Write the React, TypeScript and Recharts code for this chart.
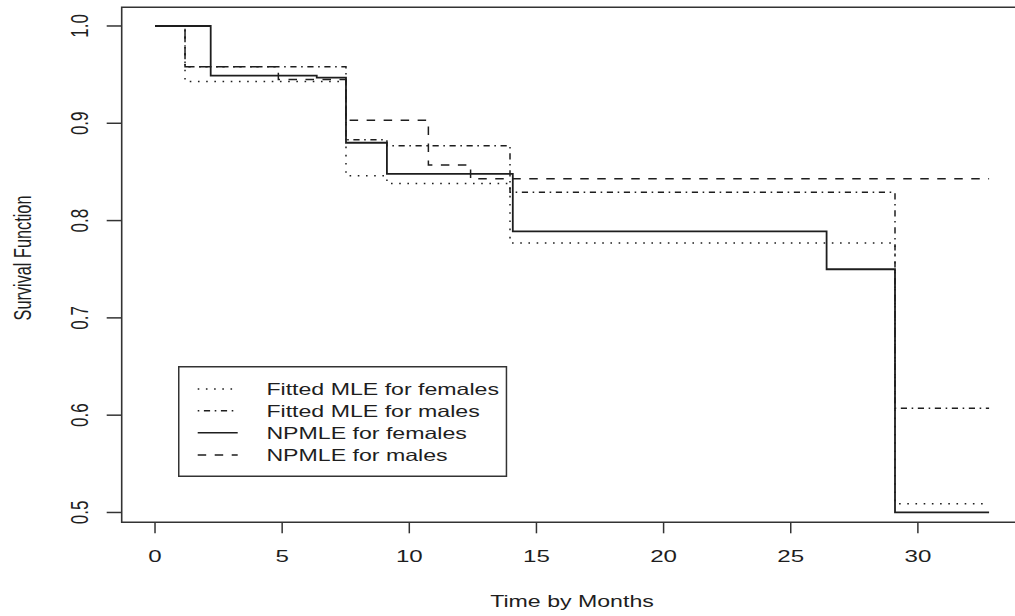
import * as React from 'react';
import { LineChart, Line, XAxis, YAxis, ReferenceArea, Legend } from 'recharts';

// step functions (time in months, survival probability)
const mleFemaleTimes = [0, 1.18, 7.51, 9.12, 13.96, 29.1, 32.8];
const mleFemaleSurv = [1.0, 0.943, 0.846, 0.838, 0.777, 0.509, 0.509];

const mleMaleTimes = [0, 1.18, 7.51, 9.12, 13.96, 29.1, 32.8];
const mleMaleSurv = [1.0, 0.958, 0.883, 0.877, 0.829, 0.607, 0.607];

const npFemaleTimes = [0, 2.19, 6.36, 7.51, 9.12, 14.07, 26.41, 29.1, 32.8];
const npFemaleSurv = [1.0, 0.949, 0.947, 0.88, 0.848, 0.789, 0.75, 0.5, 0.5];

const npMaleTimes = [0, 1.18, 4.85, 7.51, 10.75, 12.41, 32.8];
const npMaleSurv = [1.0, 0.958, 0.945, 0.903, 0.857, 0.843, 0.843];

const seriesNames = [
    'Fitted MLE for females',
    'Fitted MLE for males',
    'NPMLE for females',
    'NPMLE for males'
];

const xTicks = [0, 5, 10, 15, 20, 25, 30];
const yTicks = [0.5, 0.6, 0.7, 0.8, 0.9, 1.0];

const X_DOMAIN: [number, number] = [-1.31, 34.11];
const Y_DOMAIN: [number, number] = [0.4899, 1.0192];

const FONT = '"Liberation Sans", Arial, Helvetica, sans-serif';
const FONT_SIZE = 16.3;
const TICK_SIZE = 17;
const SX = 1.42; // the original plot is stretched horizontally
const INK = '#1e1e1e';

const dashes = ['1.6 6.6', '1.6 4.6 6.2 4.6', undefined, '8.5 8.5'];

const toSteps = (times: number[], surv: number[]) =>
    times.map((t, i) => ({ t, s: surv[i] }));

const series = [
    toSteps(mleFemaleTimes, mleFemaleSurv),
    toSteps(mleMaleTimes, mleMaleSurv),
    toSteps(npFemaleTimes, npFemaleSurv),
    toSteps(npMaleTimes, npMaleSurv)
];

const XTick = (props: any) => (
    <text
        transform={`translate(${props.x}, 562.3) scale(${SX}, 1)`}
        textAnchor="middle"
        fontFamily={FONT}
        fontSize={TICK_SIZE}
        fill={INK}
    >
        {props.payload.value}
    </text>
);

const YTick = (props: any) => (
    <text
        transform={`translate(88.3, ${props.y}) scale(${SX}, 1) rotate(-90)`}
        textAnchor="middle"
        fontFamily={FONT}
        fontSize={TICK_SIZE}
        fill={INK}
    >
        {Number(props.payload.value).toFixed(1)}
    </text>
);

const XTitle = () => (
    <text
        transform={`translate(572, 606.7) scale(${SX}, 1)`}
        textAnchor="middle"
        fontFamily={FONT}
        fontSize={FONT_SIZE}
        fill={INK}
    >
        Time by Months
    </text>
);

const YTitle = () => (
    <text
        transform={`translate(30.7, 258) scale(${SX}, 1) rotate(-90)`}
        textAnchor="middle"
        fontFamily={FONT}
        fontSize={FONT_SIZE}
        fill={INK}
    >
        Survival Function
    </text>
);

const rowY = [23, 44.7, 66.7, 89];

const LegendBox = () => (
    <svg width={330} height={112} style={{ display: 'block' }}>
        <rect x={0.75} y={0.75} width={327.7} height={109.5} fill="#fff" stroke="#333" strokeWidth={1.5} />
        {seriesNames.map((name, i) => (
            <g key={name}>
                <line
                    x1={19.7}
                    x2={59.7}
                    y1={rowY[i]}
                    y2={rowY[i]}
                    stroke={INK}
                    strokeWidth={1.5}
                    strokeDasharray={dashes[i]}
                />
                <text
                    transform={`translate(88.4, ${rowY[i] + 6}) scale(${SX}, 1)`}
                    fontFamily={FONT}
                    fontSize={FONT_SIZE}
                    fill={INK}
                >
                    {name}
                </text>
            </g>
        ))}
    </svg>
);

const App = () => {
    return (
        <div
            style={{
                position: 'absolute',
                left: 0,
                top: 0,
                width: 1015,
                height: 616,
                overflow: 'hidden',
                background: '#fff'
            }}
        >
            <LineChart
                width={1040}
                height={616}
                margin={{ top: 7.3, right: 17.6, bottom: 33.7, left: 0 }}
            >
                <XAxis
                    type="number"
                    dataKey="t"
                    domain={X_DOMAIN}
                    ticks={xTicks}
                    allowDataOverflow
                    height={60}
                    axisLine={false}
                    tickSize={11}
                    tickLine={{ stroke: '#333', strokeWidth: 1.5 }}
                    tick={XTick}
                    label={XTitle}
                />
                <YAxis
                    type="number"
                    dataKey="s"
                    domain={Y_DOMAIN}
                    ticks={yTicks}
                    allowDataOverflow
                    width={121.7}
                    axisLine={false}
                    tickSize={15}
                    tickLine={{ stroke: '#333', strokeWidth: 1.5 }}
                    tick={YTick}
                    label={YTitle}
                />
                <ReferenceArea
                    x1={X_DOMAIN[0]}
                    x2={X_DOMAIN[1]}
                    y1={Y_DOMAIN[0]}
                    y2={Y_DOMAIN[1]}
                    fill="none"
                    fillOpacity={0}
                    stroke="#333"
                    strokeWidth={1.6}
                    ifOverflow="visible"
                />
                {series.map((data, i) => (
                    <Line
                        key={seriesNames[i]}
                        name={seriesNames[i]}
                        data={data}
                        dataKey="s"
                        type="stepAfter"
                        stroke={INK}
                        strokeWidth={i === 2 ? 1.8 : 1.5}
                        strokeDasharray={dashes[i]}
                        dot={false}
                        activeDot={false}
                        isAnimationActive={false}
                    />
                ))}
                <Legend
                    layout="horizontal"
                    verticalAlign="middle"
                    align="center"
                    content={LegendBox}
                    wrapperStyle={{ left: 178.3, top: 366, width: 330, height: 112 }}
                />
            </LineChart>
        </div>
    );
};

export default App;
